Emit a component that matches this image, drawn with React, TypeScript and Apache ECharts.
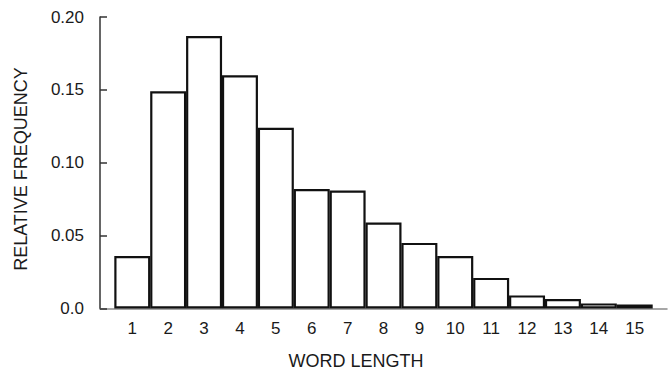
import React, { useEffect, useRef } from "react";
import * as echarts from "echarts";

const wordLengths = [1, 2, 3, 4, 5, 6, 7, 8, 9, 10, 11, 12, 13, 14, 15];
const relativeFrequency = [
  0.036, 0.149, 0.187, 0.16, 0.124, 0.082, 0.081, 0.059, 0.045, 0.036,
  0.021, 0.009, 0.0065, 0.0035, 0.0027,
];
const yTickLabels = ["0.0", "0.05", "0.10", "0.15", "0.20"];
const xTitle = "WORD LENGTH";
const yTitle = "RELATIVE FREQUENCY";

const FONT = "'Liberation Sans', Arial, Helvetica, sans-serif";
const INK = "#1a1a1a";

export default function App() {
  const ref = useRef<HTMLDivElement>(null);
  useEffect(() => {
    if (!ref.current) return;
    const chart = echarts.init(ref.current, undefined, { renderer: "svg" });
    chart.setOption({
      animation: false,
      backgroundColor: "#ffffff",
      grid: {
        left: 100,
        right: 2,
        top: 17,
        bottom: 61.5,
        containLabel: false,
        outerBoundsMode: "none",
      },
      xAxis: {
        type: "value",
        min: 0.1,
        max: 15.9,
        axisLine: { show: true, onZero: false, lineStyle: { color: "#8a8a8a", width: 1.5 } },
        axisTick: { show: false },
        splitLine: { show: false },
        axisLabel: {
          customValues: wordLengths,
          color: INK,
          fontFamily: FONT,
          fontSize: 17,
          margin: 11,
          formatter: (v: number) => String(v),
        },
      },
      yAxis: {
        type: "value",
        min: 0,
        max: 0.2,
        interval: 0.05,
        axisLine: { show: true, lineStyle: { color: "#333", width: 1.5 } },
        axisTick: { show: true, inside: true, length: 7, lineStyle: { color: "#333", width: 1.5 } },
        splitLine: { show: false },
        axisLabel: {
          color: INK,
          fontFamily: FONT,
          fontSize: 17,
          margin: 16,
          formatter: (_v: number, i: number) => yTickLabels[i] ?? "",
        },
      },
      series: [
        {
          type: "bar",
          barWidth: 36,
          data: wordLengths.map((w, i) => [w, relativeFrequency[i]]),
          itemStyle: { color: "#ffffff", borderColor: "#111111", borderWidth: 2.2 },
          silent: true,
        },
      ],
      graphic: [
        {
          type: "text",
          x: 356,
          y: 361,
          style: {
            text: xTitle,
            fontFamily: FONT,
            fontSize: 18,
            fill: INK,
            textAlign: "center",
            textVerticalAlign: "middle",
          },
        },
        {
          type: "text",
          x: 21,
          y: 169,
          rotation: Math.PI / 2,
          style: {
            text: yTitle,
            fontFamily: FONT,
            fontSize: 18,
            fill: INK,
            textAlign: "center",
            textVerticalAlign: "middle",
          },
        },
      ],
    });
    return () => chart.dispose();
  }, []);
  return <div ref={ref} style={{ width: 669, height: 370, position: "fixed", left: 0, top: 0 }} />;
}
